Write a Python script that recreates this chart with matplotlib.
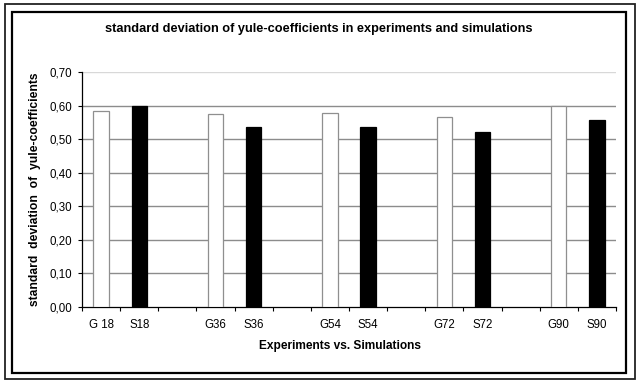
import matplotlib
matplotlib.use("Agg")
import matplotlib.pyplot as plt
from matplotlib.patches import Rectangle
from matplotlib.ticker import FixedLocator, FuncFormatter

plt.rcParams['font.family'] = ['Liberation Sans', 'DejaVu Sans']

exp_labels = ["G 18", "G36", "G54", "G72", "G90"]
sim_labels = ["S18", "S36", "S54", "S72", "S90"]
exp_values = [0.584, 0.575, 0.577, 0.567, 0.598]
sim_values = [0.598, 0.537, 0.537, 0.521, 0.557]
y_ticks = [0.0, 0.1, 0.2, 0.3, 0.4, 0.5, 0.6, 0.7]

W, H = 640, 387
fig = plt.figure(figsize=(W / 100, H / 100), dpi=100)
fig.patch.set_facecolor("white")

# borders (outer thin, inner thicker)
fig.patches.append(Rectangle((5 / W, 1 - 379 / H), 630 / W, 375 / H, transform=fig.transFigure,
                             fill=False, edgecolor="#222222", lw=1.3))
fig.patches.append(Rectangle((12 / W, 1 - 373 / H), 614 / W, 361 / H, transform=fig.transFigure,
                             fill=False, edgecolor="black", lw=1.6))

ax = fig.add_axes([82 / W, 1 - 307 / H, (616 - 82) / W, (307 - 72) / H])

n = len(exp_labels)
exp_pos = [3 * i for i in range(n)]
sim_pos = [3 * i + 1 for i in range(n)]

ax.bar(exp_pos, exp_values, width=0.4, color="white", edgecolor="#8f8f8f", lw=0.9, zorder=3)
ax.bar(sim_pos, sim_values, width=0.4, color="black", edgecolor="black", lw=0.9, zorder=3)

ax.set_xlim(-0.5, 3 * n - 1 - 0.5)
ax.set_ylim(0, 0.7)

ax.set_yticks(y_ticks)
ax.yaxis.set_major_formatter(FuncFormatter(lambda v, p: f"{v:.2f}".replace(".", ",")))
for y in y_ticks[1:]:
    ax.axhline(y, color="#8c8c8c" if y < 0.69 else "#d8d8d8", lw=1.0, zorder=1)

pos_all = sorted(exp_pos + sim_pos)
lab_all = []
for i in range(n):
    lab_all += [exp_labels[i], sim_labels[i]]
ax.set_xticks(pos_all)
ax.set_xticklabels(lab_all)
ax.tick_params(axis="x", which="major", length=0, pad=9, labelsize=8.3)
ax.xaxis.set_minor_locator(FixedLocator([k - 0.5 for k in range(3 * n - 1 + 1)]))
ax.tick_params(axis="x", which="minor", length=3, width=0.8, direction="out", color="black")
ax.tick_params(axis="y", which="major", length=3, width=0.8, pad=4, labelsize=8.3, direction="out")

for s in ["top", "right"]:
    ax.spines[s].set_visible(False)
ax.spines["left"].set_linewidth(0.9)
ax.spines["bottom"].set_linewidth(0.9)
ax.set_facecolor("white")

fig.text(319 / W, 1 - 29 / H, "standard deviation of yule-coefficients in experiments and simulations",
         ha="center", va="center", fontsize=9.2, fontweight="bold")
fig.text(340 / W, 1 - 346 / H, "Experiments vs. Simulations",
         ha="center", va="center", fontsize=8.6, fontweight="bold")
fig.text(35 / W, 1 - 189 / H, "standard  deviation  of  yule-coefficients",
         ha="center", va="center", fontsize=8.7, fontweight="bold", rotation=90)

fig.savefig("out.png", dpi=100, facecolor="white")
